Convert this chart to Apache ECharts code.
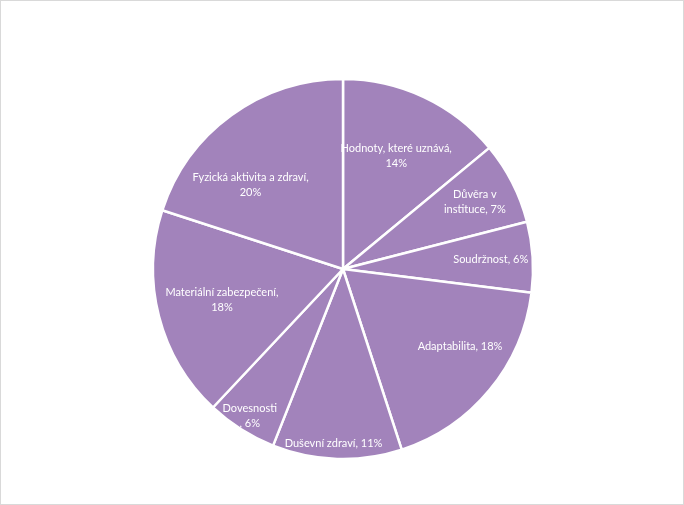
<!DOCTYPE html>
<html>
<head>
<meta charset="utf-8">
<script src="https://cdn.jsdelivr.net/npm/echarts@6/dist/echarts.min.js"></script>
<style>
  html, body { margin: 0; padding: 0; background: #fff; }
  #chart { width: 684px; height: 505px; box-sizing: border-box; border: 1px solid #D9D9D9; }
</style>
</head>
<body>
<div id="chart"></div>
<script>
// ---- data ----
const categories = [
  'Hodnoty, které uznává',
  'Důvěra v instituce',
  'Soudržnost',
  'Adaptabilita',
  'Duševní zdraví',
  'Dovesnosti',
  'Materiální zabezpečení',
  'Fyzická aktivita a zdraví'
];
const values = [14, 7, 6, 18, 11, 6, 18, 20];
// label text as shown (line breaks as in the reference)
const labelTexts = [
  'Hodnoty, které uznává,\n{v}%',
  'Důvěra v\ninstituce, {v}%',
  'Soudržnost, {v}%',
  'Adaptabilita, {v}%',
  'Duševní zdraví, {v}%',
  'Dovesnosti\n, {v}%',
  'Materiální zabezpečení,\n{v}%',
  'Fyzická aktivita a zdraví,\n{v}%'
];

// ---- layout ----
const center = [342, 268];
const radius = 190;
const labelGroups = [
  { ring: 244, items: [0, 6, 7] },
  { ring: 290, items: [1, 2, 3] },
  { ring: 342, items: [4, 5] }
];
// small label nudges (px) to mimic the reference's label placement
const labelNudge = { 3: [3, -17], 4: [-4, 1], 7: [-19, 17] };
const sliceColor = '#A283BB';

const chart = echarts.init(document.getElementById('chart'), null, { renderer: 'canvas' });

const baseData = categories.map((c, i) => ({ name: c, value: values[i] }));

const labelSeries = labelGroups.map(g => ({
  type: 'pie',
  center: center,
  radius: [0, g.ring],
  startAngle: 90,
  clockwise: true,
  silent: true,
  animation: false,
  z: 5,
  itemStyle: { color: 'rgba(0,0,0,0)', borderWidth: 0 },
  emphasis: { disabled: true },
  labelLine: { show: false },
  label: {
    show: true,
    position: 'inside',
    rotate: 0,
    color: '#FFFFFF',
    fontFamily: 'Lato',
    fontSize: 11,
    lineHeight: 15,
    align: 'center',
    formatter: p => labelTexts[p.dataIndex].replace('{v}', values[p.dataIndex])
  },
  labelLayout: p => {
    const n = labelNudge[p.dataIndex];
    return n ? { dx: n[0], dy: n[1] } : {};
  },
  data: baseData.map((d, i) => ({
    name: d.name, value: d.value,
    label: { show: g.items.indexOf(i) >= 0 }
  }))
}));

chart.setOption({
  backgroundColor: '#FFFFFF',
  animation: false,
  series: [
    {
      type: 'pie',
      center: center,
      radius: [0, radius],
      startAngle: 90,
      clockwise: true,
      silent: true,
      z: 2,
      itemStyle: { color: sliceColor, borderColor: '#FFFFFF', borderWidth: 2.5 },
      label: { show: false },
      labelLine: { show: false },
      emphasis: { disabled: true },
      data: baseData
    }
  ].concat(labelSeries)
});
</script>
</body>
</html>
